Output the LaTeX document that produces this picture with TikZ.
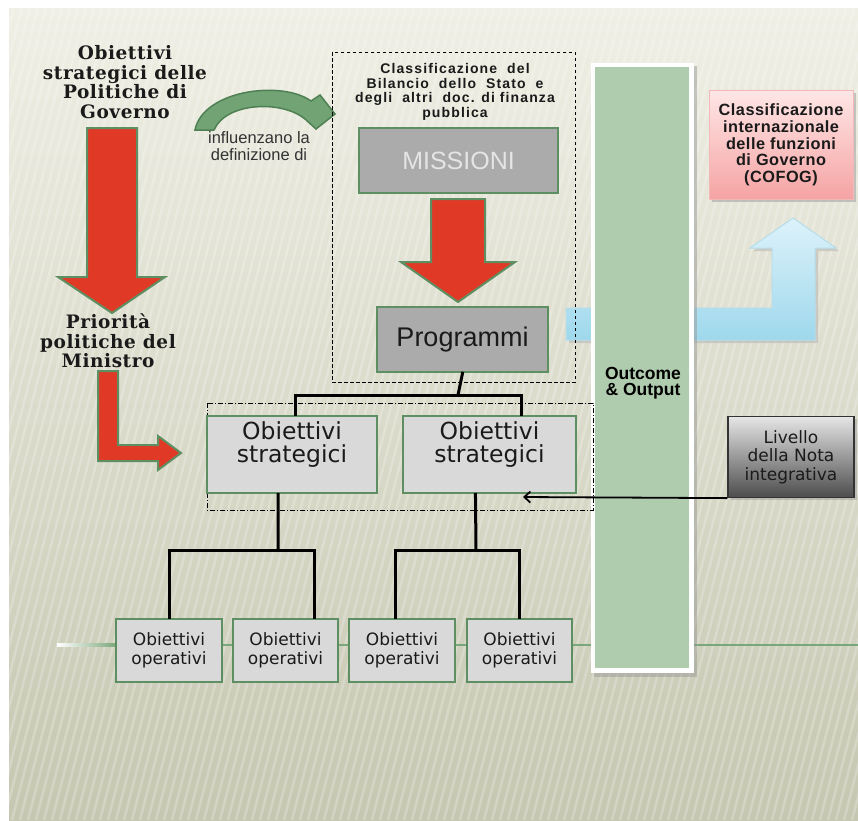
\documentclass[tikz,border=0pt]{standalone}
\usepackage{fontspec}
\setmainfont{Liberation Sans}
\newfontfamily\titlefont[LetterSpace=3]{DejaVu Serif}
\newfontfamily\dvs{DejaVu Sans}
\newfontfamily\clsfont[LetterSpace=8]{Liberation Sans}
\newfontfamily\cofogfont[LetterSpace=3]{Liberation Sans}
\usetikzlibrary{arrows.meta,calc}
\definecolor{bgtop}{HTML}{EFEFE5}
\definecolor{bgmid}{HTML}{E2E2D3}
\definecolor{bgbot}{HTML}{C6C7B1}
\definecolor{redA}{HTML}{E03A27}
\definecolor{greenB}{HTML}{5E8F62}
\definecolor{greenArc}{HTML}{72A374}
\definecolor{greenArcD}{HTML}{4F8053}
\definecolor{boxGrey}{HTML}{ABABAB}
\definecolor{boxLight}{HTML}{D9D9D9}
\definecolor{colGreen}{HTML}{B0CCAF}
\definecolor{lineGreen}{HTML}{7BA77C}
\definecolor{blueT}{HTML}{DDF2FA}
\definecolor{blueB}{HTML}{9ED8EC}
\definecolor{blueD}{HTML}{B5DDEB}
\definecolor{pinkT}{HTML}{FFE6E6}
\definecolor{pinkB}{HTML}{F5A3A3}
\definecolor{pinkD}{HTML}{F2B8B8}
\definecolor{txt}{HTML}{1A1A1A}
\begin{document}
\begin{tikzpicture}[x=1pt,y=-1pt,
  redarrow/.style={fill=redA,draw=greenB,line width=2pt,line join=miter},
  gbox/.style={draw=greenB,line width=2.5pt,inner sep=0pt,align=center,text=txt},
  titletext/.style={font=\titlefont\bfseries\fontsize{18.5}{19.5}\selectfont,align=center,text=txt,inner sep=0pt},
  tree/.style={line width=3pt,black,line cap=rect}
]
\useasboundingbox (0,0) rectangle (858,820);
\fill[white] (0,0) rectangle (858,820);
\shade[top color=bgtop, middle color=bgmid, bottom color=bgbot] (9,8) rectangle (858,820);
\begin{scope}
  \clip (9,8) rectangle (858,820);
  \foreach \x in {-220,-212,...,860}
    \draw[white,opacity=0.22,line width=2.6pt] (\x,820) -- (\x+210,8);
\end{scope}

% title texts
\node[titletext] (obgov) at (125,82) {Obiettivi\\strategici delle\\Politiche di\\Governo};
\node[titletext] (prior) at (108,341) {Priorità\\politiche del\\Ministro};

% red arrow 1
\draw[redarrow] (87,128) -- (137,128) -- (137,277) -- (165,277) -- (112,313) -- (58,277) -- (87,277) -- cycle;
% red L arrow
\draw[redarrow] (98,371) -- (118,371) -- (118,445) -- (158,445) -- (158,436) -- (181,453) -- (158,470) -- (158,461) -- (98,461) -- cycle;

% green curved arrow
\draw[fill=greenArc,draw=greenArcD,line width=1.5pt,line join=miter]
  (195,130) .. controls (203,90) and (282,80) .. (311,101)
  -- (320,95) -- (335,114) -- (316,129) -- (305,119)
  .. controls (282,100) and (226,102) .. (214,130) -- cycle;
\node[font=\fontsize{16.5}{17}\selectfont,text=black!80,align=center,inner sep=0pt] (infl) at (259,146) {influenzano la\\definizione di};

% blue arrow (behind column)
\fill[black!30,opacity=0.5] (569,311) -- (775,311) -- (775,251) -- (753,251) -- (796,221) -- (839,251) -- (818,251) -- (818,343) -- (569,343) -- cycle;
\shade[top color=blueT,bottom color=blueB,draw=blueD,line width=1pt]
  (566,308) -- (772,308) -- (772,248) -- (750,248) -- (793,218) -- (836,248) -- (815,248) -- (815,340) -- (566,340) -- cycle;

% horizontal green line
\shade[left color=white,right color=lineGreen] (57,643.8) rectangle (116,646.2);
\draw[lineGreen,line width=2pt] (116,645) -- (858,645);

% outcome column
\fill[black!40,opacity=0.5] (594,66) rectangle (697,677);
\fill[white] (591,63) rectangle (694,673);
\node[fill=colGreen,minimum width=94pt,minimum height=601pt,inner sep=0pt] (col) at (642,367.5) {};
\node[font=\bfseries\fontsize{17.5}{16.5}\selectfont,align=center,inner sep=0pt,text=black] (outc) at (643,383) {Outcome\\\& Output};

% dashed boxes
\draw[dashed,line width=0.9pt,dash pattern=on 3.5pt off 2.5pt] (332,52) rectangle (575,382);
\draw[line width=0.9pt,dash pattern=on 5pt off 2pt on 1pt off 2pt] (207,403) rectangle (593,510);

% classification text
\node[font=\clsfont\bfseries\fontsize{14}{14.5}\selectfont,align=center,inner sep=0pt,text=txt] (classif) at (455,92) {Classificazione \ del\\Bilancio \ dello \ Stato \ e\\degli \ altri \ doc. di finanza\\pubblica};

% MISSIONI
\node[gbox,fill=boxGrey,minimum width=199pt,minimum height=65pt,text=white!90!black,font=\fontsize{25}{25}\selectfont] (miss) at (458.5,160.5) {MISSIONI};
% red arrow 2
\draw[redarrow] (431,199) -- (485,199) -- (485,262) -- (515,262) -- (458,302) -- (401,262) -- (431,262) -- cycle;
% Programmi
\node[gbox,fill=boxGrey,minimum width=171pt,minimum height=65pt,font=\fontsize{27}{27}\selectfont] (prog) at (462.5,339.5) {Programmi};

% strategic boxes
\node[gbox,fill=boxLight,minimum width=170pt,minimum height=77pt] (sL) at (292,454.5) {};
\node[gbox,fill=boxLight,minimum width=173pt,minimum height=77pt] (sR) at (489.5,454.5) {};
\node[font=\dvs\fontsize{23.5}{23}\selectfont,align=center,inner sep=0pt,text=txt] (sLt) at (292,445) {Obiettivi\\strategici};
\node[font=\dvs\fontsize{23.5}{23}\selectfont,align=center,inner sep=0pt,text=txt] (sRt) at (489.5,445) {Obiettivi\\strategici};

% operative boxes
\foreach \n/\cx/\w in {o1/169/106,o2/285.5/105,o3/402/106,o4/519.5/105}
  \node[gbox,fill=boxLight,minimum width=\w pt,minimum height=63pt,font=\dvs\fontsize{17}{18.5}\selectfont] (\n) at (\cx,650.5) {Obiettivi\\operativi};

% tree connectors
\coordinate (j0) at (458,395);
\coordinate (sLin) at ($(sL.north west)!0.52!(sL.north east)$);
\coordinate (sRin) at ($(sR.north west)!0.68!(sR.north east)$);
\draw[tree] (prog.south) -- (j0);
\draw[tree] (sLin) |- (j0) -| (sRin);
\coordinate (sLout) at ($(sL.south west)!0.42!(sL.south east)$);
\coordinate (sRout) at ($(sR.south west)!0.42!(sR.south east)$);
\coordinate (j1) at (278,550);
\coordinate (j2) at (476,550);
\coordinate (o2in) at ($(o2.north west)!0.77!(o2.north east)$);
\coordinate (o3in) at ($(o3.north west)!0.44!(o3.north east)$);
\draw[tree] (sLout) -- (j1);
\draw[tree] (o1.north) |- (j1) -| (o2in);
\draw[tree] (sRout) -- (j2);
\draw[tree] (o3in) |- (j2) -| (o4.north);

% COFOG box
\fill[black!35,opacity=0.6] (712,93) rectangle (856,202);
\node[top color=pinkT,bottom color=pinkB,draw=pinkD,line width=1pt,minimum width=144pt,minimum height=109pt,inner sep=0pt,align=center,font=\cofogfont\bfseries\fontsize{16.3}{16.7}\selectfont,text=txt] (cofog) at (781,145) {Classificazione\\internazionale\\delle funzioni\\di Governo\\(COFOG)};

% Livello box
\fill[black!35,opacity=0.6] (731,419) rectangle (857,500);
\node[top color=black!10,bottom color=black!70,draw=black!80,line width=1.2pt,minimum width=126pt,minimum height=81pt,inner sep=0pt,align=center,font=\dvs\fontsize{17}{18.5}\selectfont,text=txt] (liv) at (791,457) {Livello\\della Nota\\integrativa};

\coordinate (livtip) at (523,497);
\draw[line width=1.8pt,-{Straight Barb[length=6pt,width=11pt]}] (liv.south west) -- (livtip);
\end{tikzpicture}
\end{document}
